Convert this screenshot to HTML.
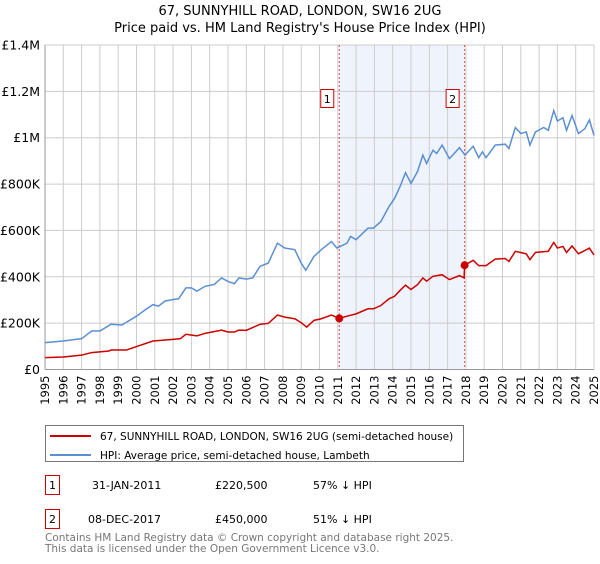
<!DOCTYPE html>
<html><head><meta charset="utf-8"><style>
body{margin:0;background:#fff;font-family:"DejaVu Sans","Liberation Sans",sans-serif;}
svg text{font-family:"DejaVu Sans","Liberation Sans",sans-serif;}
</style></head><body>
<svg id="c" width="600" height="560" xmlns="http://www.w3.org/2000/svg">
<text x="300" y="15" text-anchor="middle" font-size="13" fill="#000">67, SUNNYHILL ROAD, LONDON, SW16 2UG</text>
<text x="300" y="32" text-anchor="middle" font-size="13" fill="#000">Price paid vs. HM Land Registry's House Price Index (HPI)</text>
<g id="plot"></g>
<g>
<rect x="45.5" y="425.5" width="418" height="36" fill="#fff" stroke="#777"/>
<line x1="50" y1="436" x2="91" y2="436" stroke="#cc0000" stroke-width="2"/>
<text x="100" y="440" font-size="10.5">67, SUNNYHILL ROAD, LONDON, SW16 2UG (semi-detached house)</text>
<line x1="50" y1="455" x2="91" y2="455" stroke="#5b8fd4" stroke-width="2"/>
<text x="100" y="459" font-size="10.5">HPI: Average price, semi-detached house, Lambeth</text>
</g>
<g font-size="11">
<rect x="45.5" y="475.5" width="14" height="19" fill="#fff" stroke="#cc0000"/>
<text x="52.5" y="489" text-anchor="middle">1</text>
<text x="92" y="489">31-JAN-2011</text>
<text x="215" y="489">£220,500</text>
<text x="313" y="489">57% ↓ HPI</text>
<rect x="45.5" y="509.5" width="14" height="19" fill="#fff" stroke="#cc0000"/>
<text x="52.5" y="523" text-anchor="middle">2</text>
<text x="88" y="523">08-DEC-2017</text>
<text x="215" y="523">£450,000</text>
<text x="313" y="523">51% ↓ HPI</text>
</g>
<text x="45" y="541" font-size="10.5" fill="#777">Contains HM Land Registry data © Crown copyright and database right 2025.</text>
<text x="45" y="552" font-size="10.5" fill="#777">This data is licensed under the Open Government Licence v3.0.</text>
</svg>
<script>
const yTicks=[0,200,400,600,800,1000,1200,1400];
const yTickLabels=["£0","£200K","£400K","£600K","£800K","£1M","£1.2M","£1.4M"];
const xYears=[1995,1996,1997,1998,1999,2000,2001,2002,2003,2004,2005,2006,2007,2008,2009,2010,2011,2012,2013,2014,2015,2016,2017,2018,2019,2020,2021,2022,2023,2024,2025];
const hpiT=[1995,1996,1997,1997.55,1998,1998.6,1999.2,2000,2000.5,2000.9,2001.2,2001.55,2002,2002.3,2002.7,2003,2003.3,2003.75,2004.25,2004.65,2005,2005.35,2005.6,2006,2006.35,2006.75,2007.2,2007.7,2008.1,2008.65,2009,2009.25,2009.7,2010.1,2010.65,2010.95,2011.5,2011.7,2012,2012.65,2012.95,2013.35,2013.8,2014.1,2014.4,2014.7,2015,2015.35,2015.65,2015.85,2016.2,2016.4,2016.7,2017.1,2017.65,2017.95,2018.4,2018.7,2018.9,2019.1,2019.6,2020.15,2020.35,2020.7,2021,2021.3,2021.5,2021.8,2022.25,2022.5,2022.8,2023,2023.3,2023.5,2023.8,2024.15,2024.5,2024.75,2025];
const hpiV=[116,123,133,166,166,195,192,230,259,280,273,295,302,305,352,352,338,359,367,395,380,370,395,390,395,445,459,545,524,517,459,428,488,517,552,524,545,574,560,610,610,638,703,738,789,849,803,853,925,889,946,932,968,910,957,925,963,914,939,914,968,972,953,1044,1018,1025,968,1025,1044,1032,1117,1072,1086,1032,1096,1018,1039,1077,1010];
const propT=[1995,1996,1997,1997.55,1998.5,1998.6,1999.45,2000,2000.9,2002,2002.4,2002.7,2003.3,2003.75,2004.65,2005,2005.35,2005.6,2006,2006.75,2007.2,2007.7,2008.1,2008.65,2009,2009.3,2009.7,2010.1,2010.65,2011.08,2011.5,2012,2012.65,2012.95,2013.35,2013.8,2014.1,2014.4,2014.7,2015,2015.35,2015.65,2015.85,2016.2,2016.7,2017.1,2017.65,2017.9,2017.93,2018.4,2018.7,2019.1,2019.6,2020.15,2020.35,2020.7,2021.3,2021.5,2021.8,2022.5,2022.8,2023,2023.3,2023.5,2023.8,2024.15,2024.75,2025];
const propV=[51.5,54,62,73,80,84,84,99,123,130,133,152,145,156,170,162,162,170,169,195,199,235,226,219,202,183,212,219,235,220.5,230,240,262,262,276,305,316,341,364,345,366,395,381,402,409,388,405,395,450,471,448,448,476,479,466,510,499,474,505,510,548,524,531,505,533,499,524,494];
const saleT=[2011.08,2017.93];
const saleV=[220.5,450];
const saleLabels=["1","2"];

const X0=45,X1=594,Y0=369.5,Y1=45;
const xs=t=>X0+(t-1995)/(2025-1995)*(X1-X0);
const ys=v=>Y0-v/1400*(Y0-Y1);
const NS="http://www.w3.org/2000/svg";
const g=document.getElementById('plot');
function mk(tag,attrs){const e=document.createElementNS(NS,tag);for(const k in attrs)e.setAttribute(k,attrs[k]);g.appendChild(e);return e;}

let e=mk('rect',{x:xs(saleT[0]),y:Y1,width:xs(saleT[1])-xs(saleT[0]),height:Y0-Y1,fill:'#eef3fc'});


xYears.forEach(yr=>{const l=mk('line',{x1:xs(yr),x2:xs(yr),y1:Y1,y2:Y0,stroke:'#ccc','stroke-width':1});


const t=mk('text',{x:0,y:0,'font-size':11.5,'text-anchor':'end',transform:`translate(${xs(yr)+4},${Y0+6}) rotate(-90)`});t.textContent=yr;

});
yTicks.forEach((v,i)=>{const l=mk('line',{x1:X0,x2:X1,y1:ys(v),y2:ys(v),stroke:'#ccc','stroke-width':1});


const t=mk('text',{x:X0-5,y:ys(v)+4.5,'font-size':12.5,'text-anchor':'end'});t.textContent=yTickLabels[i];

});
const ax=mk('line',{x1:X0,x2:X0,y1:Y1,y2:Y0,stroke:'#999'});


const ax2=mk('line',{x1:X0,x2:X1,y1:Y0,y2:Y0,stroke:'#999'});


saleT.forEach((t,i)=>{const l=mk('line',{x1:xs(t),x2:xs(t),y1:Y1,y2:Y0,stroke:'#e05050','stroke-dasharray':'2,2','stroke-width':1});

});
const hp=mk('polyline',{points:hpiT.map((t,i)=>xs(t)+','+ys(hpiV[i])).join(' '),fill:'none',stroke:'#5b8fd4','stroke-width':1.5});


const pp=mk('polyline',{points:propT.map((t,i)=>xs(t)+','+ys(propV[i])).join(' '),fill:'none',stroke:'#cc0000','stroke-width':1.5});


saleT.forEach((t,i)=>{const c=mk('circle',{cx:xs(t),cy:ys(saleV[i]),r:4,fill:'#cc0000'});


const b=mk('rect',{x:xs(t)-18.5,y:89.5,width:13,height:18,fill:'#fff',stroke:'#cc0000'});


const tx=mk('text',{x:xs(t)-12,y:103,'font-size':11,'text-anchor':'middle'});tx.textContent=saleLabels[i];

});
</script>
</body></html>
